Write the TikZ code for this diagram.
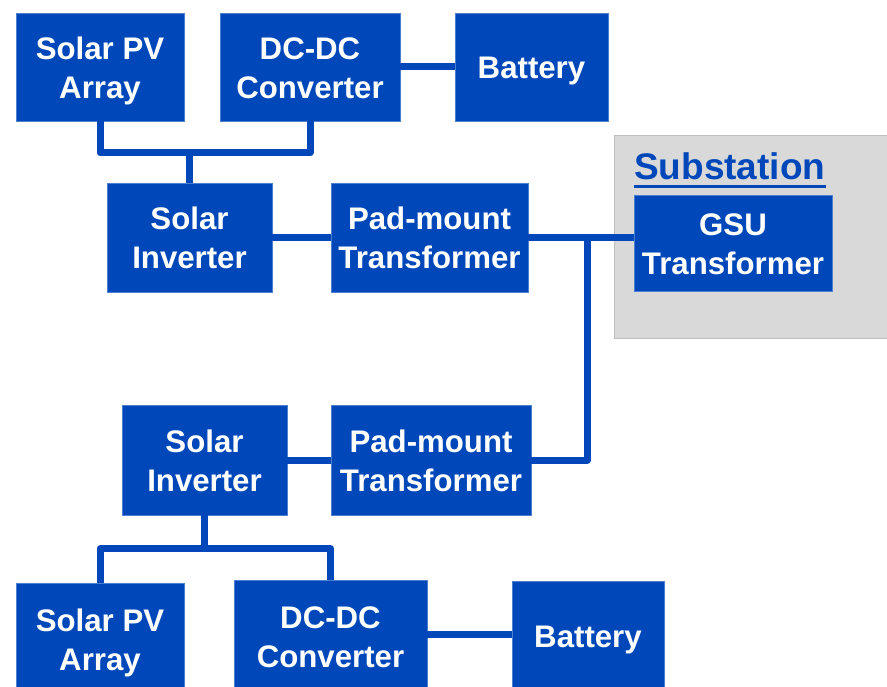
\documentclass[tikz,border=0pt]{standalone}
\usepackage{fontspec}
\setmainfont{Liberation Sans}
\definecolor{boxblue}{RGB}{0,72,186}
\definecolor{subgray}{RGB}{217,217,217}
\definecolor{subedge}{RGB}{191,191,191}
\newcommand\bxtext[1]{\vbox{\kern8pt\hbox{\begin{tabular}{@{}c@{}}#1\end{tabular}}}}
\begin{document}
\begin{tikzpicture}[x=1pt,y=-1pt,
  blk/.style={fill=boxblue, text=white, font=\bfseries\fontsize{31.2}{39}\selectfont,
    inner sep=0pt, draw=boxblue!70!white, line width=0.6pt},
  wire/.style={draw=boxblue, line width=7pt, line join=round}]
\useasboundingbox (0,0) rectangle (887,687);
% substation area
\node[fill=subgray, draw=subedge, line width=1pt, minimum width=280, minimum height=203, inner sep=0pt] (sub) at (754,237.5) {};
\node[anchor=base west, inner sep=0pt, text=boxblue, font=\bfseries\fontsize{37}{40}\selectfont] (subt) at (634,180) {Substation};
\draw[boxblue, line width=3pt] ([yshift=-7pt]subt.base west) -- ([yshift=-7pt]subt.base east);
% top branch
\node[blk, minimum width=168, minimum height=108] (pv1) at (100,67) {\bxtext{Solar PV\\Array}};
\node[blk, minimum width=180, minimum height=108] (dc1) at (310,67) {\bxtext{DC-DC\\Converter}};
\node[blk, minimum width=153, minimum height=108] (bat1) at (531.5,67) {\bxtext{Battery}};
\node[blk, minimum width=165, minimum height=109] (inv1) at (189.5,237.5) {\bxtext{Solar\\Inverter}};
\node[blk, minimum width=197, minimum height=109] (pm1) at (429.5,237.5) {\bxtext{Pad-mount\\Transformer}};
\node[blk, minimum width=198, minimum height=96] (gsu) at (733,243) {\bxtext{GSU\\Transformer}};
% bottom branch
\node[blk, minimum width=165, minimum height=110] (inv2) at (204.5,460) {\bxtext{Solar\\Inverter}};
\node[blk, minimum width=200, minimum height=110] (pm2) at (431,460) {\bxtext{Pad-mount\\Transformer}};
\node[blk, minimum width=168, minimum height=112] (pv2) at (100,639) {\bxtext{Solar PV\\Array}};
\node[blk, minimum width=193, minimum height=112] (dc2) at (330.5,636) {\bxtext{DC-DC\\Converter}};
\node[blk, minimum width=152, minimum height=110] (bat2) at (588,636) {\bxtext{Battery}};
% connectors top
\coordinate (j1) at (0,153);
\draw[wire] (pv1.south) -- (pv1.south |- j1) -- (dc1.south |- j1) -- (dc1.south);
\draw[wire] (inv1.north) -- (inv1.north |- j1);
\draw[wire] (dc1.east) -- (bat1.west);
\draw[wire] (inv1.east) -- (pm1.west);
\coordinate (bus) at (587.5,0);
\draw[wire] (pm1.east) -- (pm1.east -| gsu.west);
\draw[wire] (pm1.east -| bus) -- (pm2.east -| bus) -- (pm2.east);
% connectors bottom
\draw[wire] (inv2.east) -- (pm2.west);
\coordinate (j2) at (0,548.5);
\draw[wire] (inv2.south) -- (inv2.south |- j2);
\draw[wire] (pv2.north) -- (pv2.north |- j2) -- (dc2.north |- j2) -- (dc2.north);
\draw[wire] (dc2.east |- 0,634) -- (bat2.west |- 0,634);
\end{tikzpicture}
\end{document}
